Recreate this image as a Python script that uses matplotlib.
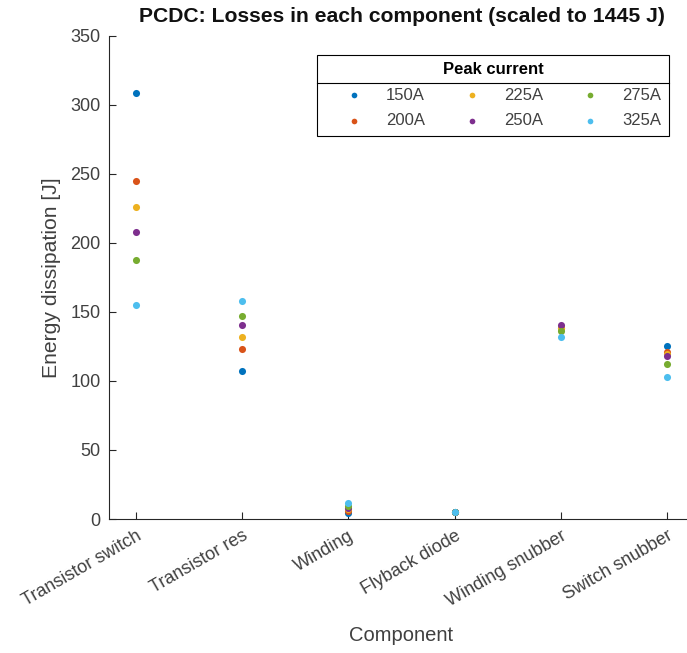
import matplotlib
matplotlib.use("Agg")
import matplotlib.pyplot as plt
from matplotlib.lines import Line2D

# --- data ---
components = ["Transistor switch", "Transistor res", "Winding",
              "Flyback diode", "Winding snubber", "Switch snubber"]
currents = ["150A", "200A", "225A", "250A", "275A", "325A"]
loss_150 = [308.3, 107.4, 4.5, 4.8, 138.0, 125.3]
loss_200 = [245.0, 123.1, 6.0, 4.8, 138.5, 121.1]
loss_225 = [225.9, 132.0, 7.0, 4.8, 138.5, 119.5]
loss_250 = [207.8, 140.5, 8.0, 4.8, 140.5, 117.8]
loss_275 = [187.5, 147.2, 9.5, 4.8, 136.5, 112.5]
loss_325 = [154.7, 158.1, 11.4, 5.0, 132.0, 103.0]
colors = ["#0072BD", "#D95319", "#EDB120", "#7E2F8E", "#77AC30", "#4DBEEE"]

plt.rcParams['font.family'] = ['Liberation Sans', 'DejaVu Sans']
TXT = '#404040'

fig = plt.figure(figsize=(6.87, 6.53), dpi=100)
ax = fig.add_axes([109/687, 134/653, 585/687, 483.3/653])

xs = list(range(1, len(components) + 1))
series = [loss_150, loss_200, loss_225, loss_250, loss_275, loss_325]
for vals, lab, c in zip(series, currents, colors):
    ax.scatter(xs, vals, s=26, color=c, label=lab, linewidths=0, zorder=3)

ax.set_xlim(0.75, 6.25)
ax.set_ylim(0, 350)
ax.set_yticks(range(0, 351, 50))
ax.set_xticks(xs)
ax.set_xticklabels(components, rotation=30, ha='right', rotation_mode='anchor')

for s in ('top', 'right'):
    ax.spines[s].set_visible(False)
for s in ('left', 'bottom'):
    ax.spines[s].set_color('#262626')
    ax.spines[s].set_linewidth(0.8)
ax.tick_params(direction='in', length=5, width=0.8, color='#262626',
               labelsize=13, labelcolor=TXT, pad=6)

ax.set_ylabel('Energy dissipation [J]', fontsize=15.2, color=TXT, labelpad=7)
ax.set_xlabel('Component', fontsize=14.5, color=TXT, labelpad=12)
fig.text(402/687, 1 - 17/653, 'PCDC: Losses in each component (scaled to 1445 J)',
         ha='center', va='center', fontsize=15.2, fontweight='bold', color='#111111')

leg = ax.legend(title='Peak current', ncol=3, loc='upper right',
                bbox_to_anchor=(669/687, 1 - 55/653),
                bbox_transform=fig.transFigure, borderaxespad=0,
                fontsize=12, title_fontsize=12, fancybox=False, framealpha=1,
                edgecolor='black', handletextpad=0.2, handlelength=3.5,
                columnspacing=1.05, labelspacing=0.62, borderpad=0.45,
                scatterpoints=1, markerscale=0.8)
leg.get_frame().set_linewidth(0.8)
leg.get_title().set_fontweight('bold')
for t in leg.get_texts():
    t.set_color(TXT)

# separator line under the legend title
fig.canvas.draw()
r = fig.canvas.get_renderer()
fb = leg.get_frame().get_window_extent(r)
tb = leg.get_title().get_window_extent(r)
rb = leg.get_texts()[0].get_window_extent(r)
ysep = (tb.y0 + rb.y1) / 2
inv = fig.transFigure.inverted()
(x0, y0), (x1, _) = inv.transform([(fb.x0, ysep), (fb.x1, ysep)])
fig.add_artist(Line2D([x0, x1], [y0, y0], color='black', lw=0.8,
                      transform=fig.transFigure))

fig.savefig('out.png', dpi=100)
